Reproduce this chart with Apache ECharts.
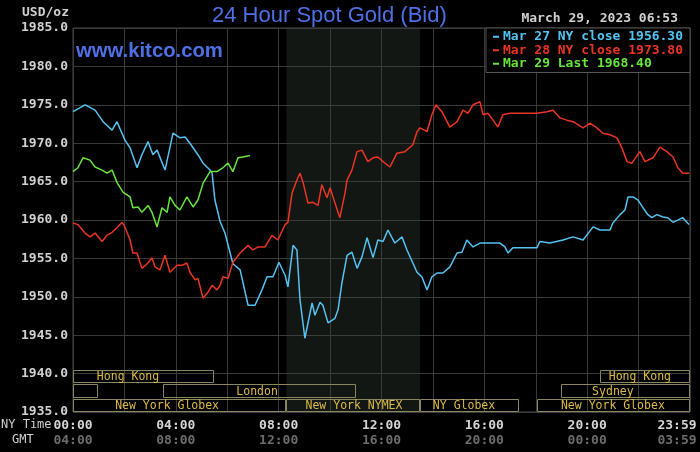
<!DOCTYPE html>
<html><head><meta charset="utf-8">
<script src="https://cdn.jsdelivr.net/npm/echarts@6/dist/echarts.min.js"></script>
<style>html,body{margin:0;padding:0;background:#000;}#c{width:700px;height:452px;}</style>
</head><body><div id="c"></div>
<script>
// ---- data ----
var mar27Hours = [0,0.47,0.86,1.17,1.52,1.71,2.02,2.22,2.49,2.68,
  2.92,3.11,3.27,3.58,3.89,4.16,4.36,4.55,4.86,5.06,
  5.33,5.41,5.52,5.72,5.91,6.22,6.50,6.81,7.08,7.35,
  7.55,7.78,8.01,8.25,8.36,8.56,8.71,8.83,9.02,9.30,
  9.41,9.61,9.72,9.92,10.19,10.31,10.46,10.66,10.85,11.05,
  11.24,11.44,11.67,11.86,12.06,12.25,12.52,12.80,12.99,13.22,
  13.38,13.57,13.77,13.96,14.16,14.39,14.66,14.94,15.13,15.32,
  15.56,15.83,16.22,16.61,16.80,16.92,17.11,17.66,18.05,18.16,
  18.55,19.06,19.45,19.84,20.23,20.50,20.89,21.00,21.28,21.47,
  21.59,21.78,21.98,22.17,22.36,22.52,22.71,22.95,23.14,23.34,
  23.72,23.96];
var mar27Price = [1974.1,1975.0,1974.3,1972.8,1971.7,1972.8,1970.4,1969.4,1966.8,1968.5,
  1970.2,1968.5,1969.1,1966.5,1971.3,1970.7,1970.8,1970.0,1968.5,1967.4,
  1966.5,1966.1,1962.6,1959.8,1958.3,1954.3,1953.5,1948.9,1948.9,1950.9,
  1952.6,1952.6,1954.5,1952.8,1951.3,1956.7,1956.1,1949.6,1944.6,1949.2,
  1947.6,1949.3,1948.9,1946.6,1947.2,1948.3,1951.8,1955.4,1955.8,1953.7,
  1955.2,1957.7,1955.1,1957.4,1957.2,1958.7,1957.0,1957.8,1956.1,1954.4,
  1953.2,1952.6,1950.9,1952.6,1953.1,1953.1,1953.9,1955.7,1955.8,1957.4,
  1956.5,1957.0,1957.0,1957.0,1956.5,1955.7,1956.4,1956.4,1956.4,1957.2,
  1957.0,1957.4,1957.8,1957.4,1959.1,1958.7,1958.7,1959.6,1960.7,1961.3,
  1963.0,1963.0,1962.6,1961.6,1960.7,1960.3,1960.7,1960.4,1960.3,1959.7,
  1960.3,1959.4];

var mar28Hours = [0,0.19,0.47,0.66,0.86,1.13,1.32,1.52,1.71,1.91,
  2.02,2.22,2.33,2.49,2.68,2.92,3.07,3.19,3.38,3.58,
  3.77,4.05,4.24,4.43,4.55,4.75,4.86,5.06,5.25,5.41,
  5.60,5.72,5.83,6.03,6.22,6.50,6.81,7.00,7.20,7.47,
  7.74,7.97,8.25,8.36,8.52,8.71,8.83,8.95,9.14,9.33,
  9.53,9.68,9.88,10.00,10.19,10.38,10.58,10.66,10.85,11.05,
  11.24,11.47,11.67,11.86,12.06,12.33,12.60,12.91,13.22,13.38,
  13.50,13.77,13.96,14.12,14.35,14.66,14.94,15.17,15.36,15.56,
  15.83,15.95,16.14,16.34,16.53,16.72,17.00,18.05,18.44,18.67,
  18.94,19.21,19.45,19.84,20.11,20.38,20.61,20.89,21.16,21.35,
  21.55,21.74,22.05,22.25,22.56,22.83,23.10,23.34,23.53,23.72,
  23.96];
var mar28Price = [1959.6,1959.4,1958.3,1957.8,1958.3,1957.2,1958.0,1958.4,1959.0,1959.7,
  1959.1,1957.4,1955.7,1955.7,1953.7,1954.4,1955.1,1953.9,1953.5,1955.4,
  1953.2,1954.1,1954.1,1954.4,1953.2,1952.2,1952.4,1949.8,1950.6,1951.5,
  1950.9,1951.5,1952.6,1952.4,1954.5,1955.7,1956.7,1956.1,1956.5,1956.5,
  1958.0,1957.4,1959.4,1959.7,1963.5,1965.2,1966.1,1964.9,1962.2,1962.3,
  1961.9,1964.6,1962.9,1964.2,1962.2,1960.3,1963.5,1965.2,1966.5,1968.9,
  1969.1,1967.6,1968.1,1968.2,1967.6,1966.9,1968.7,1968.9,1969.8,1971.5,
  1972.0,1971.5,1973.7,1975.0,1974.1,1972.1,1972.8,1974.3,1973.9,1975.0,
  1975.4,1973.7,1973.9,1973.0,1972.1,1973.7,1973.9,1973.9,1974.1,1974.3,
  1973.3,1973.0,1972.8,1972.0,1972.6,1972.0,1971.3,1971.1,1970.7,1969.4,
  1967.6,1967.4,1968.9,1967.6,1968.1,1969.5,1968.9,1968.2,1966.8,1966.1,
  1966.1];

var mar29Hours = [0,0.19,0.39,0.66,0.86,1.13,1.32,1.52,1.71,1.95,
  2.22,2.33,2.53,2.68,2.92,3.07,3.27,3.46,3.66,3.77,
  3.97,4.16,4.43,4.67,4.86,5.06,5.33,5.60,5.83,6.03,
  6.22,6.42,6.61,6.88];
var mar29Price = [1966.3,1966.8,1968.1,1967.8,1966.9,1966.5,1966.1,1966.5,1964.9,1963.6,
  1963.0,1961.6,1961.7,1961.0,1961.9,1961.0,1959.1,1961.6,1961.0,1963.0,
  1961.9,1961.3,1963.0,1961.7,1962.6,1964.8,1966.3,1966.3,1966.8,1967.4,
  1966.3,1968.1,1968.2,1968.4];

var seriesNames = ['Mar 27 NY close 1956.30', 'Mar 28 NY close 1973.80', 'Mar 29 Last 1968.40'];

var sessionNames = ['Hong Kong','Hong Kong','','London','Sydney','New York Globex','New York NYMEX','NY Globex','New York Globex'];
var sessionStart = [0, 20.5, 0, 3.5, 19.0, 0, 8.3, 13.5, 18.05];
var sessionEnd   = [5.5, 24, 0.97, 11.0, 24, 8.3, 13.5, 17.35, 24];
var sessionRow   = [0, 0, 1, 1, 1, 2, 2, 2, 2];
var sessionLabelAt = [2.14, 22.05, 0.5, 7.16, 21.0, 3.66, 10.93, 15.21, 21.0];

var nymexShade = [8.3, 13.5];

var nyTickLabels  = {0:'00:00', 4:'04:00', 8:'08:00', 12:'12:00', 16:'16:00', 20:'20:00', 24:'23:59'};
var gmtTickLabels = {0:'04:00', 4:'08:00', 8:'12:00', 12:'16:00', 16:'20:00', 20:'00:00', 24:'03:59'};

// ---- chart ----
function zip(h, p) { return h.map(function (v, i) { return [v, p[i]]; }); }
var colors = ['#55c3f2', '#ea3523', '#68e53c'];
var mono = "'DejaVu Sans Mono', monospace";
// row bounds in price units [top, bottom]
var rowBounds = [[1940.47, 1938.74], [1938.61, 1936.79], [1936.65, 1935.0]];

var chart = echarts.init(document.getElementById('c'), null, {renderer: 'canvas'});
var option = {
  backgroundColor: '#000',
  animation: false,
  title: {
    text: '24 Hour Spot Gold (Bid)', left: 207, top: 0,
    textStyle: {color: '#4f6fe6', fontSize: 22, fontWeight: 'normal', fontFamily: 'Liberation Sans, Arial, sans-serif'}
  },
  grid: {left: 73, right: 10, top: 28, bottom: 40, containLabel: false, outerBoundsMode: 'none',
    show: true, borderColor: '#4a4a4a', borderWidth: 1, backgroundColor: 'transparent'},
  legend: {
    orient: 'vertical', left: 486, top: 28, selectedMode: false,
    backgroundColor: '#000', borderColor: '#555', borderWidth: 1, borderRadius: 0,
    padding: [2, 7, 2, 7], itemGap: 0, itemWidth: 6, itemHeight: 2, icon: 'rect',
    data: seriesNames.map(function (n, i) { return {name: n, itemStyle: {color: colors[i]}, textStyle: {color: colors[i]}}; }),
    textStyle: {fontFamily: mono, fontSize: 13, fontWeight: 'bold', lineHeight: 13.5, padding: [0, 0, 0, -1]}
  },
  xAxis: {
    type: 'value', min: 0, max: 24, interval: 2,
    axisLine: {show: false}, axisTick: {show: false},
    splitLine: {show: true, lineStyle: {color: '#3a3a3a', width: 1}},
    axisLabel: {
      margin: 6, showMinLabel: true, showMaxLabel: true, hideOverlap: false,
      formatter: function (v) {
        if (!(v in nyTickLabels)) return '';
        if (v === 24) return '{e|' + nyTickLabels[v] + '}\n{f|' + gmtTickLabels[v] + '}';
        return '{a|' + nyTickLabels[v] + '}\n{b|' + gmtTickLabels[v] + '}';
      },
      rich: {
        a: {color: '#d4d4d4', fontFamily: mono, fontSize: 13, fontWeight: 'bold', lineHeight: 15},
        b: {color: '#6c6c6c', fontFamily: mono, fontSize: 13, fontWeight: 'bold', lineHeight: 15},
        e: {color: '#d4d4d4', fontFamily: mono, fontSize: 13, fontWeight: 'bold', lineHeight: 15, padding: [0, 26, 0, 0]},
        f: {color: '#6c6c6c', fontFamily: mono, fontSize: 13, fontWeight: 'bold', lineHeight: 15, padding: [0, 26, 0, 0]}
      }
    }
  },
  yAxis: {
    type: 'value', min: 1935, max: 1985, interval: 5,
    axisLine: {show: false}, axisTick: {show: false},
    splitLine: {show: true, lineStyle: {color: '#3a3a3a', width: 1}},
    axisLabel: {
      margin: 5, color: '#d0d0d0', fontFamily: mono, fontSize: 13, fontWeight: 'bold',
      formatter: function (v) { return v.toFixed(1); }
    }
  },
  graphic: [
    {type: 'text', left: 22, top: 6, style: {text: 'USD/oz', fill: '#d0d0d0', font: 'bold 13px ' + mono}},
    {type: 'text', right: 22, top: 12, style: {text: 'March 29, 2023 06:53', fill: '#d0d0d0', font: 'bold 13px ' + mono}},
    {type: 'text', left: 76, top: 41, z: 10, style: {text: 'www.kitco.com', fill: '#4f6fe6', font: 'bold 20.3px Liberation Sans, Arial, sans-serif'}},
    {type: 'text', left: 1, top: 419, style: {text: 'NY Time', fill: '#d0d0d0', font: '12px ' + mono}},
    {type: 'text', left: 12, top: 434, style: {text: 'GMT', fill: '#d0d0d0', font: '12px ' + mono}}
  ],
  series: [
    {
      type: 'line', name: seriesNames[0], data: zip(mar27Hours, mar27Price), showSymbol: false,
      lineStyle: {color: colors[0], width: 1.5}, itemStyle: {color: colors[0]}, z: 3,
      markArea: {silent: true, itemStyle: {color: 'rgba(60,72,60,0.32)'}, data: [[{xAxis: nymexShade[0]}, {xAxis: nymexShade[1]}]]}
    },
    {
      type: 'line', name: seriesNames[1], data: zip(mar28Hours, mar28Price), showSymbol: false,
      lineStyle: {color: colors[1], width: 1.5}, itemStyle: {color: colors[1]}, z: 3
    },
    {
      type: 'line', name: seriesNames[2], data: zip(mar29Hours, mar29Price), showSymbol: false,
      lineStyle: {color: colors[2], width: 1.5}, itemStyle: {color: colors[2]}, z: 3
    },
    {
      type: 'custom', name: 'sessions', silent: true, z: 4,
      data: sessionStart.map(function (s, i) { return [s, sessionEnd[i], sessionRow[i], sessionLabelAt[i]]; }),
      renderItem: function (params, api) {
        var s = api.value(0), e = api.value(1), r = api.value(2), la = api.value(3);
        var b = rowBounds[r];
        var p0 = api.coord([s, b[0]]), p1 = api.coord([e, b[1]]);
        var x0 = Math.round(p0[0]) + 0.5, y0 = Math.round(p0[1]) + 0.5;
        var x1 = Math.round(p1[0]) - 0.5, y1 = Math.round(p1[1]) - 0.5;
        var lc = api.coord([la, (b[0] + b[1]) / 2]);
        return {
          type: 'group',
          children: [
            {type: 'rect', shape: {x: x0, y: y0, width: x1 - x0, height: y1 - y0},
             style: {fill: null, stroke: '#8a875e', lineWidth: 1}},
            {type: 'text', x: lc[0], y: lc[1] + 0.5,
             style: {text: sessionNames[params.dataIndex], fill: '#dcbc45', font: '11.5px ' + mono, align: 'center', verticalAlign: 'middle'}}
          ]
        };
      }
    }
  ]
};
chart.setOption(option);
</script></body></html>
